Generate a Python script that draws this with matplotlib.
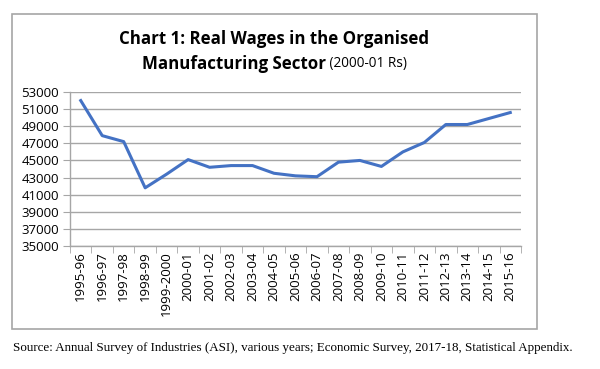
import matplotlib
matplotlib.use("Agg")
import matplotlib.pyplot as plt
from matplotlib.patches import Rectangle
from matplotlib.ticker import FixedLocator, NullFormatter

years = ["1995-96", "1996-97", "1997-98", "1998-99", "1999-2000", "2000-01",
         "2001-02", "2002-03", "2003-04", "2004-05", "2005-06", "2006-07",
         "2007-08", "2008-09", "2009-10", "2010-11", "2011-12", "2012-13",
         "2013-14", "2014-15", "2015-16"]
wages = [52000, 47900, 47200, 41800, 43400, 45100, 44200, 44400, 44400,
         43500, 43200, 43100, 44800, 45000, 44300, 46000, 47100, 49200,
         49200, 49900, 50600]
yticks = list(range(35000, 53001, 2000))

W, H = 600, 369
fig = plt.figure(figsize=(6, 3.69), dpi=100)
fig.patch.set_facecolor("white")

# chart border
fig.patches.append(Rectangle((12 / W, 1 - 329 / H), (537 - 12) / W, (329 - 14) / H,
                             transform=fig.transFigure, fill=False,
                             edgecolor="#a6a6a6", linewidth=1.2))

ax = fig.add_axes([70 / W, 1 - 246 / H, (521 - 70) / W, (246 - 92) / H])
x = list(range(len(years)))
ax.plot(x, wages, color="#4472c4", linewidth=2.2, solid_joinstyle="round")
ax.set_xlim(-0.5, len(years) - 0.5)
ax.set_ylim(35000, 53000)
ax.set_yticks(yticks)
ax.set_yticklabels([str(v) for v in yticks], fontsize=9.5, family="Open Sans")
ax.yaxis.grid(True, color="#a6a6a6", linewidth=1.0)
ax.set_axisbelow(True)

ax.set_xticks(x)
ax.set_xticklabels(years, rotation=90, fontsize=9.5, family="Open Sans")
ax.tick_params(axis="x", which="major", length=0, pad=4)
ax.xaxis.set_minor_locator(FixedLocator([i - 0.5 for i in range(len(years) + 1)]))
ax.xaxis.set_minor_formatter(NullFormatter())
ax.tick_params(axis="x", which="minor", length=5, color="#a6a6a6", direction="out")
ax.tick_params(axis="y", length=5, color="#a6a6a6", direction="out", pad=3)

for s in ["top", "right"]:
    ax.spines[s].set_visible(False)
for s in ["left", "bottom"]:
    ax.spines[s].set_color("#a6a6a6")
    ax.spines[s].set_linewidth(1.0)

fig.text(274 / W, 1 - 39 / H, "Chart 1: Real Wages in the Organised",
         ha="center", va="center", fontsize=12.2, fontweight="bold", family="Open Sans")
t1 = fig.text(0, 0, "Manufacturing Sector", fontsize=12.2, fontweight="bold", family="Open Sans")
t2 = fig.text(0, 0, " (2000-01 Rs)", fontsize=9.8, family="Open Sans")
fig.canvas.draw()
r = fig.canvas.get_renderer()
w1 = t1.get_window_extent(r).width
w2 = t2.get_window_extent(r).width
start = 274 - (w1 + w2) / 2
t1.set_position((start / W, 1 - 64 / H))
t1.set_va("center")
t2.set_position(((start + w1) / W, 1 - 64 / H))
t2.set_va("center")

fig.text(13 / W, 1 - 348 / H,
         "Source: Annual Survey of Industries (ASI), various years; Economic Survey, 2017-18, Statistical Appendix.",
         ha="left", va="center", fontsize=9.35, family="Liberation Serif")

fig.savefig("out.png", dpi=100)
